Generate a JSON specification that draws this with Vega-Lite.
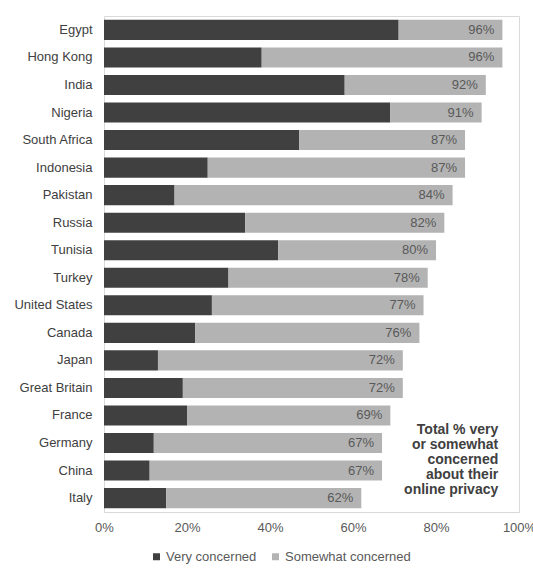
{
  "$schema": "https://vega.github.io/schema/vega-lite/v6.json",
  "width": 415,
  "height": 496,
  "autosize": {"type": "none"},
  "padding": {"left": 104, "top": 16, "right": 14, "bottom": 57},
  "background": "white",
  "config": {
    "font": "Liberation Sans",
    "view": {"stroke": "#d9d9d9", "strokeWidth": 1},
    "axis": {"labelFont": "Liberation Sans", "labelFontSize": 13, "labelColor": "#595959"}
  },
  "datasets": {
    "privacy": [
      {"country": "Egypt", "Very concerned": 71, "Somewhat concerned": 25, "total": 96},
      {"country": "Hong Kong", "Very concerned": 38, "Somewhat concerned": 58, "total": 96},
      {"country": "India", "Very concerned": 58, "Somewhat concerned": 34, "total": 92},
      {"country": "Nigeria", "Very concerned": 69, "Somewhat concerned": 22, "total": 91},
      {"country": "South Africa", "Very concerned": 47, "Somewhat concerned": 40, "total": 87},
      {"country": "Indonesia", "Very concerned": 25, "Somewhat concerned": 62, "total": 87},
      {"country": "Pakistan", "Very concerned": 17, "Somewhat concerned": 67, "total": 84},
      {"country": "Russia", "Very concerned": 34, "Somewhat concerned": 48, "total": 82},
      {"country": "Tunisia", "Very concerned": 42, "Somewhat concerned": 38, "total": 80},
      {"country": "Turkey", "Very concerned": 30, "Somewhat concerned": 48, "total": 78},
      {"country": "United States", "Very concerned": 26, "Somewhat concerned": 51, "total": 77},
      {"country": "Canada", "Very concerned": 22, "Somewhat concerned": 54, "total": 76},
      {"country": "Japan", "Very concerned": 13, "Somewhat concerned": 59, "total": 72},
      {"country": "Great Britain", "Very concerned": 19, "Somewhat concerned": 53, "total": 72},
      {"country": "France", "Very concerned": 20, "Somewhat concerned": 49, "total": 69},
      {"country": "Germany", "Very concerned": 12, "Somewhat concerned": 55, "total": 67},
      {"country": "China", "Very concerned": 11, "Somewhat concerned": 56, "total": 67},
      {"country": "Italy", "Very concerned": 15, "Somewhat concerned": 47, "total": 62}
    ],
    "note": [
      {"country": "Germany", "x": 95, "label": ["Total % very", "or somewhat", "concerned", "about their", "online privacy"]}
    ]
  },
  "layer": [
    {
      "data": {"name": "privacy"},
      "transform": [
        {"fold": ["Very concerned", "Somewhat concerned"], "as": ["level", "pct"]},
        {"calculate": "datum.level === 'Very concerned' ? 0 : 1", "as": "order"}
      ],
      "mark": {"type": "bar"},
      "encoding": {
        "y": {
          "field": "country",
          "type": "nominal",
          "sort": null,
          "scale": {"paddingInner": 0.27, "paddingOuter": 0.14},
          "axis": {"title": null, "domain": false, "ticks": false, "labelPadding": 12, "labelColor": "#404040"}
        },
        "x": {
          "field": "pct",
          "type": "quantitative",
          "stack": "zero",
          "scale": {"domain": [0, 100], "nice": false},
          "axis": {
            "title": null,
            "values": [0, 20, 40, 60, 80, 100],
            "labelExpr": "datum.value + '%'",
            "grid": false,
            "domain": false,
            "ticks": false,
            "labelPadding": 9,
            "labelFlush": false
          }
        },
        "color": {
          "field": "level",
          "type": "nominal",
          "scale": {"domain": ["Very concerned", "Somewhat concerned"], "range": ["#404040", "#b3b3b3"]},
          "legend": {
            "title": null,
            "orient": "none",
            "direction": "horizontal",
            "legendX": 46,
            "legendY": 534,
            "symbolType": "square",
            "symbolSize": 49,
            "symbolStrokeWidth": 0,
            "labelFontSize": 13,
            "labelColor": "#595959",
            "labelFont": "Liberation Sans",
            "columnPadding": 12,
            "labelOffset": 3
          }
        },
        "order": {"field": "order", "type": "quantitative"}
      }
    },
    {
      "data": {"name": "privacy"},
      "transform": [{"calculate": "datum.total + '%'", "as": "totalLabel"}],
      "mark": {"type": "text", "align": "right", "baseline": "middle", "dx": -8, "fontSize": 13, "color": "#595959"},
      "encoding": {
        "y": {"field": "country", "type": "nominal", "sort": null},
        "x": {"field": "total", "type": "quantitative"},
        "text": {"field": "totalLabel", "type": "nominal"}
      }
    },
    {
      "data": {"name": "note"},
      "mark": {"type": "text", "align": "right", "baseline": "middle", "fontSize": 14, "fontWeight": "bold", "color": "#404040", "lineHeight": 15, "dy": -13},
      "encoding": {
        "y": {"field": "country", "type": "nominal", "sort": null},
        "x": {"field": "x", "type": "quantitative"},
        "text": {"field": "label"}
      }
    }
  ]
}
